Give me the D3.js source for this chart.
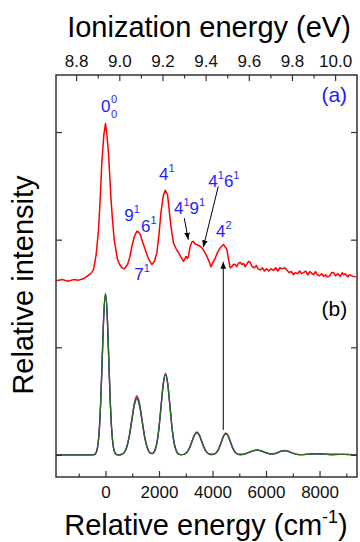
<!DOCTYPE html>
<html><head><meta charset="utf-8">
<script src="https://cdn.jsdelivr.net/npm/d3@7"></script>
<style>body{margin:0;background:#fff}svg{display:block}</style>
</head><body>
<script>
// ---- Data ----
const expEnergy = [-1840,-1600,-1400,-1200,-1000,-800,-697,-550,-449,-350,-262,-200,-136,-60,0,50,112,200,260,325,449,530,613,700,760,823,900,987,1080,1174,1240,1297,1400,1484,1600,1735,1830,1921,2000,2071,2160,2232,2318,2380,2445,2542,2630,2729,2820,2916,2970,3017,3060,3103,3166,3230,3290,3350,3415,3500,3604,3700,3790,3870,3940,4020,4101,4200,4288,4360,4411,4470,4538,4600,4662,4720,4780,4849,4900,4960,5036,5100,5160,5223,5300,5350,5409,5480,5560,5640,5700,5783,5860,5940,6020,6100,6180,6280,6360,6440,6520,6600,6700,6781,6860,6940,7028,7100,7180,7260,7330,7402,7480,7560,7640,7720,7776,7850,7920,8000,8080,8150,8230,8300,8380,8450,8523,8600,8680,8774,8850,8900,8961,9050,9120,9200,9271,9350];
const expIntensity = [0.00,0.01,-0.005,0.01,0.005,0.02,0.04,0.065,0.10,0.24,0.47,0.75,1.10,1.36,1.46,1.36,1.19,0.78,0.57,0.38,0.195,0.15,0.12,0.11,0.13,0.15,0.21,0.32,0.41,0.46,0.45,0.43,0.35,0.29,0.205,0.15,0.18,0.26,0.43,0.63,0.79,0.84,0.80,0.66,0.505,0.35,0.30,0.26,0.22,0.18,0.205,0.225,0.205,0.23,0.32,0.36,0.365,0.34,0.335,0.325,0.305,0.27,0.225,0.18,0.13,0.17,0.21,0.27,0.305,0.325,0.335,0.315,0.29,0.195,0.12,0.13,0.15,0.15,0.13,0.16,0.17,0.15,0.16,0.13,0.16,0.18,0.17,0.13,0.12,0.14,0.11,0.10,0.12,0.09,0.11,0.09,0.11,0.095,0.12,0.09,0.12,0.11,0.12,0.10,0.075,0.085,0.055,0.075,0.065,0.09,0.065,0.075,0.09,0.055,0.085,0.065,0.055,0.085,0.055,0.045,0.065,0.04,0.055,0.035,0.045,0.075,0.075,0.045,0.065,0.04,0.075,0.055,0.065,0.035,0.055,0.045,0.04,0.035];
const expOffset = 1.619;

const simEnergy = [-1850,-600,-420,-360,-300,-240,-180,-120,-60,0,
  60,120,180,240,300,360,420,500,604,699,
  794,889,984,1079,1174,1269,1364,1459,1554,1649,
  1745,1830,1913,1996,2078,2161,2243,2325,2408,2490,
  2573,2655,2738,2850,2965,3055,3145,3235,3325,3415,
  3505,3595,3685,3775,3865,3955,4075,4160,4245,4330,
  4415,4500,4585,4670,4755,4840,4925,5010,5140,5270,
  5400,5530,5660,5790,5920,6050,6180,6345,6460,6575,
  6690,6805,6920,7035,7150,7300,7600,7900,8200,8500,
  8900,9400];
const simRed = [0,0,0.003,0.017,0.066,0.202,0.484,0.905,1.316,1.49,
  1.316,0.905,0.484,0.202,0.066,0.017,0.003,0.001,0.006,0.024,
  0.075,0.179,0.334,0.485,0.55,0.485,0.334,0.179,0.075,0.024,
  0.013,0.034,0.103,0.247,0.461,0.671,0.76,0.671,0.461,0.247,
  0.103,0.034,0.008,0.002,0.009,0.029,0.07,0.13,0.19,0.215,
  0.19,0.13,0.07,0.029,0.009,0.004,0.009,0.028,0.067,0.124,
  0.181,0.205,0.181,0.124,0.067,0.028,0.009,0.004,0.006,0.016,
  0.028,0.041,0.046,0.041,0.028,0.017,0.01,0.014,0.025,0.036,
  0.041,0.036,0.025,0.014,0.006,0.003,0.008,0.012,0.008,0.004,
  0.005,0.001];
const simBlue = [0,0,0.003,0.017,0.066,0.203,0.486,0.908,1.32,1.495,
  1.32,0.908,0.486,0.203,0.066,0.017,0.003,0.001,0.006,0.023,
  0.072,0.174,0.325,0.472,0.535,0.472,0.325,0.174,0.072,0.023,
  0.012,0.033,0.102,0.244,0.455,0.662,0.75,0.662,0.455,0.244,
  0.102,0.033,0.008,0.002,0.009,0.028,0.068,0.127,0.185,0.21,
  0.185,0.127,0.068,0.028,0.009,0.004,0.009,0.027,0.065,0.121,
  0.1765,0.2,0.1765,0.121,0.065,0.027,0.009,0.004,0.006,0.015,
  0.027,0.04,0.045,0.04,0.027,0.016,0.009,0.013,0.024,0.035,
  0.04,0.035,0.024,0.013,0.005,0.003,0.007,0.011,0.007,0.004,
  0.005,0.001];
const simGreen = [0,0,0.003,0.017,0.066,0.203,0.487,0.91,1.324,1.5,
  1.324,0.91,0.487,0.203,0.066,0.017,0.003,0.001,0.006,0.023,
  0.07,0.169,0.315,0.459,0.52,0.459,0.315,0.169,0.07,0.023,
  0.012,0.033,0.101,0.242,0.452,0.657,0.745,0.657,0.452,0.242,
  0.101,0.033,0.008,0.002,0.009,0.028,0.067,0.124,0.181,0.205,
  0.181,0.124,0.067,0.028,0.009,0.004,0.009,0.026,0.063,0.118,
  0.172,0.195,0.172,0.118,0.063,0.026,0.009,0.004,0.006,0.015,
  0.027,0.039,0.044,0.039,0.027,0.016,0.009,0.013,0.024,0.035,
  0.04,0.035,0.024,0.013,0.005,0.003,0.007,0.011,0.007,0.004,
  0.005,0.001];

const bottomTicks = [0,2000,4000,6000,8000];
const bottomMinor = [-1000,1000,3000,5000,7000,9000];
const topTicks = [8.8,9.0,9.2,9.4,9.6,9.8,10.0];
const topMinor = [8.9,9.1,9.3,9.5,9.7,9.9];
const leftTicks = [0,1,2,3];
const IE0 = 8.936;          // eV at relative energy 0
const cmPerEV = 8065.54;

// annotation labels: [energy, intensity, parts]
const labels = [
  {e:1999, v:2.556, parts:[["4","1"]]},
  {e:703,  v:2.175, parts:[["9","1"]]},
  {e:1327, v:2.075, parts:[["6","1"]]},
  {e:2560, v:2.24,  parts:[["4","1"],["9","1"]]},
  {e:3842, v:2.494, parts:[["4","1"],["6","1"]]},
  {e:4129, v:2.029, parts:[["4","2"]]},
  {e:1076, v:1.626, parts:[["7","1"]]}
];
const arrows = [
  {e1:2945, v1:2.20, e2:3094, v2:2.0},
  {e1:4215, v1:2.494, e2:3655, v2:1.93},
  {e1:4402, v1:0.232, e2:4402, v2:1.794}
];

// ---- Drawing ----
const W=360, H=542;
const X0=56, X1=357, Y0=75, Y1=477;
const font = "'Liberation Sans', Arial, Helvetica, sans-serif";
const blue = "#1e1eff";
const svg = d3.select("body").append("svg").attr("width",W).attr("height",H)
  .style("font-family", font);

const x = d3.scaleLinear().domain([-1850, 9400]).range([X0, X1]);
const y = d3.scaleLinear().domain([-0.205, 3.53]).range([Y1, Y0]);
const xe = d3.scaleLinear().domain([IE0 + x.domain()[0]/cmPerEV, IE0 + x.domain()[1]/cmPerEV]).range([X0, X1]);

svg.append("defs").append("marker").attr("id","ah")
  .attr("viewBox","0 0 10 10").attr("refX",10).attr("refY",5)
  .attr("markerWidth",7).attr("markerHeight",7).attr("orient","auto")
  .attr("markerUnits","userSpaceOnUse")
  .append("path").attr("d","M0,1 L10,5 L0,9 Z").attr("fill","#000");

const clip = svg.append("clipPath").attr("id","clip").append("rect")
  .attr("x",X0).attr("y",Y0).attr("width",X1-X0).attr("height",Y1-Y0);

const plot = svg.append("g").attr("clip-path","url(#clip)");

const simLine = d3.line().x(d=>x(d[0])).y(d=>y(d[1])).curve(d3.curveMonotoneX);
[[simRed,"#ff2020"],[simBlue,"#2040ff"],[simGreen,"#2d6a1e"]].forEach(([arr,col])=>{
  plot.append("path").datum(d3.zip(simEnergy, arr))
    .attr("d", simLine).attr("fill","none").attr("stroke",col).attr("stroke-width",1.3);
});

const expLine = d3.line().x(d=>x(d[0])).y(d=>y(d[1]+expOffset));
plot.append("path").datum(d3.zip(expEnergy, expIntensity))
  .attr("d", expLine).attr("fill","none").attr("stroke","#ff0000").attr("stroke-width",1.5)
  .attr("stroke-linejoin","round");

arrows.forEach(a=>{
  svg.append("line").attr("x1",x(a.e1)).attr("y1",y(a.v1)).attr("x2",x(a.e2)).attr("y2",y(a.v2))
    .attr("stroke","#000").attr("stroke-width",1).attr("marker-end","url(#ah)");
});

// labels
function drawLabel(l){
  const t = svg.append("text").attr("x",x(l.e)).attr("y",y(l.v)).attr("fill",blue)
    .attr("font-size",17);
  let off = 0;
  l.parts.forEach(([m,s])=>{
    t.append("tspan").attr("dy",0-off).text(m); off=0;
    t.append("tspan").attr("dy",-8-off).attr("font-size",11).text(s); off=-8;
  });
}
labels.forEach(drawLabel);

// 0_0^0 label
{
  const lx = x(-168), ly = y(3.19);
  const m = svg.append("text").attr("x",lx).attr("y",ly).attr("fill",blue).attr("font-size",17).text("0");
  const w = m.node().getComputedTextLength();
  svg.append("text").attr("x",lx+w+0.5).attr("y",ly-8.8).attr("fill",blue).attr("font-size",11).text("0");
  svg.append("text").attr("x",lx+w+0.5).attr("y",ly+6.8).attr("fill",blue).attr("font-size",11).text("0");
}

svg.append("text").attr("x",x(9030)).attr("y",y(3.28)).attr("text-anchor","end")
  .attr("fill",blue).attr("font-size",21).text("(a)");
svg.append("text").attr("x",x(9036)).attr("y",y(1.292)).attr("text-anchor","end")
  .attr("fill","#000").attr("font-size",21).text("(b)");

// axes
const axisCol = "#333";
function styleAxis(g, fs){
  g.select(".domain").remove();
  g.selectAll("line").attr("stroke",axisCol).attr("stroke-width",1.2);
  g.selectAll("text").attr("fill","#111").style("font-size",fs+"px").style("font-family",font);
}
svg.append("g").attr("transform",`translate(0,${Y0})`)
  .call(d3.axisTop(xe).tickValues(topTicks).tickSize(-6).tickPadding(8).tickFormat(d3.format(".1f")))
  .call(g=>styleAxis(g,17));
svg.append("g").attr("transform",`translate(0,${Y0})`)
  .call(d3.axisTop(xe).tickValues(topMinor).tickSize(-3.5).tickFormat(""))
  .call(g=>styleAxis(g,17));
svg.append("g").attr("transform",`translate(0,${Y1})`)
  .call(d3.axisBottom(x).tickValues(bottomTicks).tickSize(-6).tickPadding(9).tickFormat(d3.format("d")))
  .call(g=>styleAxis(g,17));
svg.append("g").attr("transform",`translate(0,${Y1})`)
  .call(d3.axisBottom(x).tickValues(bottomMinor).tickSize(-3.5).tickFormat(""))
  .call(g=>styleAxis(g,17));
svg.append("g").attr("transform",`translate(${X0},0)`)
  .call(d3.axisLeft(y).tickValues(leftTicks).tickSize(-6).tickFormat(""))
  .call(g=>styleAxis(g,17));
svg.append("g").attr("transform",`translate(${X1},0)`)
  .call(d3.axisRight(y).tickValues(leftTicks).tickSize(-6).tickFormat(""))
  .call(g=>styleAxis(g,17));

svg.append("rect").attr("x",X0).attr("y",Y0).attr("width",X1-X0).attr("height",Y1-Y0)
  .attr("fill","none").attr("stroke",axisCol).attr("stroke-width",1.5);

// titles
svg.append("text").attr("x",209).attr("y",37).attr("text-anchor","middle")
  .attr("font-size",29).attr("fill","#000").text("Ionization energy (eV)");
const bt = svg.append("text").attr("x",206).attr("y",535).attr("text-anchor","middle")
  .attr("font-size",29).attr("fill","#000");
bt.append("tspan").text("Relative energy (cm");
bt.append("tspan").attr("font-size",18).attr("dy",-12).text("-1");
bt.append("tspan").attr("dy",12).text(")");
svg.append("text").attr("transform","translate(33,285) rotate(-90)").attr("text-anchor","middle")
  .attr("font-size",29).attr("fill","#000").text("Relative intensity");
</script>
</body></html>
